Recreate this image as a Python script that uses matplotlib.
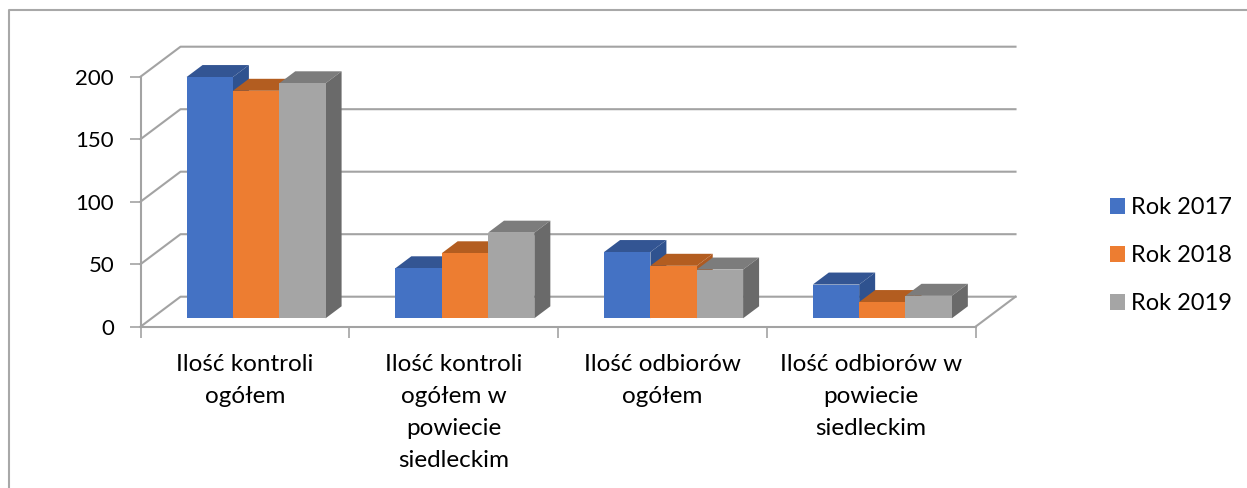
import matplotlib
matplotlib.use('Agg')
import matplotlib.pyplot as plt
from matplotlib.lines import Line2D
from matplotlib.patches import Patch, Polygon

categories = ['Ilość kontroli\nogółem',
              'Ilość kontroli\nogółem w\npowiecie\nsiedleckim',
              'Ilość odbiorów\nogółem',
              'Ilość odbiorów w\npowiecie\nsiedleckim']
rok_2017 = [193, 40, 53, 27]
rok_2018 = [182, 52, 42, 13]
rok_2019 = [188, 68.5, 39, 18]
y_ticks = [0, 50, 100, 150, 200]
series_names = ['Rok 2017', 'Rok 2018', 'Rok 2019']

# front, top, side colour per series
colors = [('#4472C4', '#335593', '#2F528F'),
          ('#ED7D31', '#B35D20', '#AE5A21'),
          ('#A5A5A5', '#7C7C7C', '#6A6A6A')]
line_color = '#A3A3A3'

plt.rcParams['font.family'] = ['Lato', 'DejaVu Sans']

W, H = 1247, 488
fig = plt.figure(figsize=(W / 100, H / 100), dpi=100)

# axes sit on the front plane of the fake 3D box
x0, x1, y0, y1 = 140.5, 975.5, 326.7, 76.7
ax = fig.add_axes([x0 / W, 1 - y0 / H, (x1 - x0) / W, (y0 - y1) / H])
ax.set_xlim(0, len(categories))
ax.set_ylim(0, 200)
ax.patch.set_visible(False)

# depth of the box in data units
dx = 40 / ((x1 - x0) / len(categories))
dy = 30 / ((y0 - y1) / 200)

# walls
for v in y_ticks:
    ax.plot([0, dx, len(categories) + dx], [v, v + dy, v + dy],
            color=line_color, lw=1.5, clip_on=False, zorder=1)
ax.plot([len(categories), len(categories) + dx], [0, dy],
        color=line_color, lw=1.5, clip_on=False, zorder=1)

# bars
bar_w = 0.222
base = 0.28   # where the bars start in the depth
depth = 0.40  # how deep they are
z = 2
for i in range(len(categories)):
    for j, vals in enumerate([rok_2017, rok_2018, rok_2019]):
        front, top, side = colors[j]
        left = i + 0.5 + (j - 1.5) * bar_w + base * dx
        bottom = base * dy
        v = vals[i]
        ddx, ddy = depth * dx, depth * dy
        ax.add_patch(Polygon([(left, bottom + v), (left + bar_w, bottom + v),
                              (left + bar_w + ddx, bottom + v + ddy),
                              (left + ddx, bottom + v + ddy)],
                             fc=top, ec='none', clip_on=False, zorder=z))
        ax.add_patch(Polygon([(left + bar_w, bottom), (left + bar_w + ddx, bottom + ddy),
                              (left + bar_w + ddx, bottom + v + ddy),
                              (left + bar_w, bottom + v)],
                             fc=side, ec='none', clip_on=False, zorder=z))
        ax.bar(left, v, bar_w, bottom=bottom, align='edge', color=front,
               clip_on=False, zorder=z + 0.5)
        z += 1

# axes and labels
for s in ['top', 'right']:
    ax.spines[s].set_visible(False)
for s in ['left', 'bottom']:
    ax.spines[s].set_color(line_color)
    ax.spines[s].set_linewidth(1.5)

ax.set_yticks(y_ticks)
ax.tick_params(axis='y', length=8, width=1.2, color=line_color, labelsize=16, pad=11)
ax.set_xticks(range(len(categories) + 1))
ax.set_xticklabels([])
ax.tick_params(axis='x', which='major', length=8, width=1.2, color=line_color)
ax.set_xticks([i + 0.5 for i in range(len(categories))], minor=True)
ax.set_xticklabels(categories, minor=True, fontsize=17.5, linespacing=1.64)
ax.tick_params(axis='x', which='minor', length=0, pad=20)

# legend
handles = [Patch(fc=c[0], ec='none') for c in colors]
fig.legend(handles, series_names, loc='upper left',
           bbox_to_anchor=(1089 / W, 1 - 176 / H), frameon=False, fontsize=17,
           handlelength=0.635, handleheight=0.635, handletextpad=0.25, labelspacing=1.14)

# chart frame, only top and left are inside the crop
fig.add_artist(Line2D([8.5 / W, 8.5 / W, 1], [0, 1 - 10 / H, 1 - 10 / H],
                      color='#A8A8A8', lw=1.5))

fig.savefig('out.png', dpi=100)
